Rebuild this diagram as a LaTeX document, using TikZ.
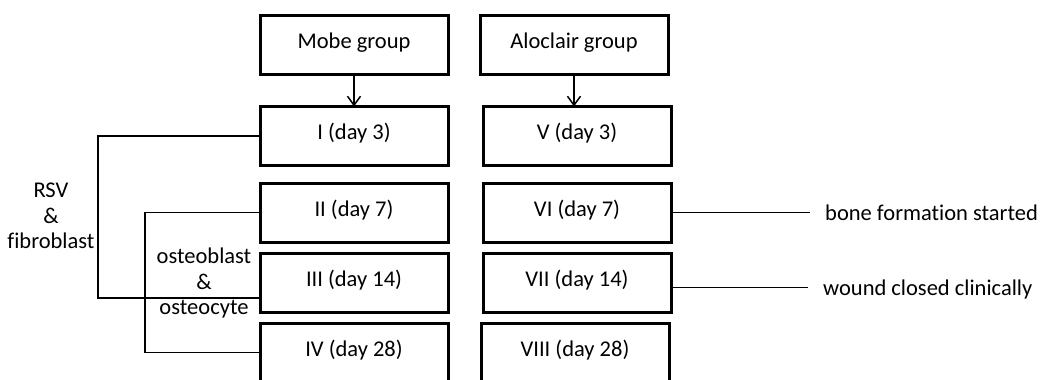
\documentclass[tikz,border=0pt]{standalone}
\usepackage{fontspec}
\setmainfont{Carlito}[Ligatures=CommonOff]
\usetikzlibrary{arrows.meta, positioning}

\begin{document}
\begin{tikzpicture}[x=1pt, y=-1pt,
    font=\fontsize{22.5}{25.5}\selectfont,
    box/.style={draw, line width=3pt, minimum width=188pt, minimum height=59pt,
      inner sep=0pt, outer sep=0pt, text height=0.7em, text depth=0pt},
    link/.style={line width=1.5pt},
    cellnote/.style={inner sep=0pt, align=center},
    remark/.style={anchor=west, inner xsep=15pt, inner ysep=0pt, text depth=0pt}
  ]
  \useasboundingbox (0,0) rectangle (1044,380);

  \node[box] (mobe) at (354,44.5) {Mobe group};
  \node[box] (aloclair) at (574,44.5) {Aloclair group};

  \node[box] (I) at (354,136) {I (day 3)};
  \node[box] (II) at (354,212.5) {II (day 7)};
  \node[box] (III) at (354,282.5) {III (day 14)};
  \node[box] (IV) at (354,352.5) {IV (day 28)};

  \node[box] (V) at (577,136) {V (day 3)};
  \node[box] (VI) at (577,212.5) {VI (day 7)};
  \node[box] (VII) at (577,282.5) {VII (day 14)};
  \node[box] (VIII) at (575,352.5) {VIII (day 28)};

  \draw[link, -{Straight Barb[length=9pt, width=13pt]}] (mobe) -- (I);
  \draw[link, -{Straight Barb[length=9pt, width=13pt]}] (aloclair.south) -- (aloclair.south |- V.north);

  % cells seen in each group
  \node[cellnote] (rsv) at (51,216) {RSV\\\&\\fibroblast};
  \node[cellnote] (osteo) at (204,283) {osteoblast\\\&\\osteocyte};
  \draw[link] (I.west) -- ++(-162,0) |- ([yshift=-15.5pt]III.west);
  \draw[link] (II.west) -- ++(-115,0) |- (IV.west);

  \node[remark] (bone) at (810,212.5) {bone formation started};
  \node[remark] (wound) at (808,287.5) {wound closed clinically};
  \draw[link] (VI) -- (bone);
  \draw[link] ([yshift=-5pt]VII.east) -- (wound);
\end{tikzpicture}
\end{document}
